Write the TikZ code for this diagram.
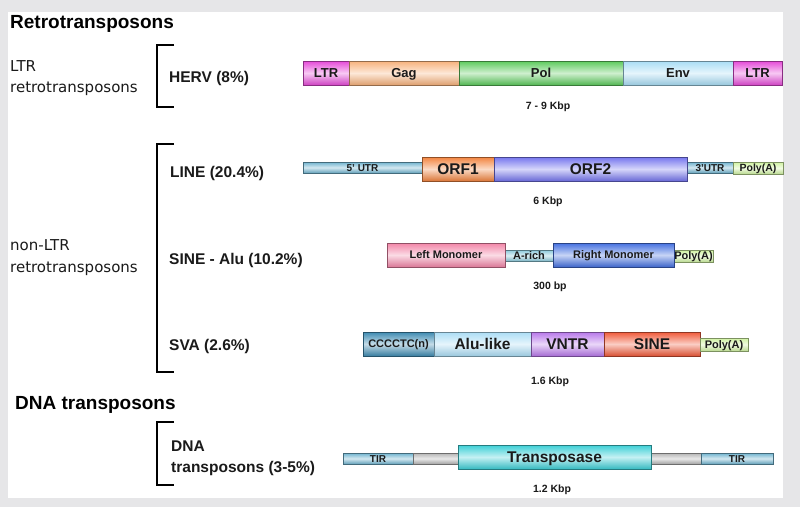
\documentclass[tikz,border=0pt]{standalone}
\usepackage{fontspec}
\setmainfont{Liberation Sans}
\newfontfamily\lucid{DejaVu Sans}
\definecolor{bgray}{HTML}{E6E6E8}
\definecolor{cLTR}{HTML}{E54BD8}
\definecolor{cGag}{HTML}{F7B27C}
\definecolor{cPol}{HTML}{5DCB5D}
\definecolor{cEnv}{HTML}{A9DDF5}
\definecolor{cUTR}{HTML}{6FB3CF}
\definecolor{cORFa}{HTML}{F2843F}
\definecolor{cORFb}{HTML}{7575EE}
\definecolor{cPA}{HTML}{CFF2A0}
\definecolor{cLM}{HTML}{F286A8}
\definecolor{cAR}{HTML}{8CCADB}
\definecolor{cRM}{HTML}{4470E0}
\definecolor{cCC}{HTML}{3E8BB2}
\definecolor{cAL}{HTML}{ABDDF5}
\definecolor{cVN}{HTML}{B878EA}
\definecolor{cSI}{HTML}{F05A3A}
\definecolor{cTP}{HTML}{3CCFD6}
\definecolor{cGR}{HTML}{B5B5B5}
\definecolor{txt}{HTML}{1A1A1A}
% name, x1, y1, x2, y2, colour, font size, text
\newcommand\gseg[8]{%
  \path[draw=#6!60!black, line width=0.7pt, top color=#6, bottom color=#6!90!black, middle color=#6!30]
    (#2,#3) rectangle (#4,#5);
  \node[font=\bfseries\fontsize{#7}{#7}\selectfont, text=txt, inner sep=0pt, anchor=base]
    (#1) at ({(#2+#4)/2},{(#3+#5)/2+0.358*#7}) {#8};}
\tikzset{
  head/.style={font=\bfseries\fontsize{19}{22}\selectfont, anchor=base west, inner sep=0pt, text=black},
  cat/.style={font=\lucid\fontsize{15}{18}\selectfont, anchor=base west, inner sep=0pt, text=txt},
  elem/.style={font=\bfseries\fontsize{15.5}{18}\selectfont, anchor=base west, inner sep=0pt, text=txt},
  sizelab/.style={font=\bfseries\fontsize{10.5}{12}\selectfont, inner sep=0pt, text=txt},
  brk/.style={line width=2.5pt, line cap=butt, line join=miter},
}
\begin{document}
\begin{tikzpicture}[x=1pt,y=-1pt]
\useasboundingbox (0,0) rectangle (800,507);
\fill[bgray] (0,0) rectangle (800,507);
\fill[white] (8,12) rectangle (783,498);

% headings
\node[head] (hRetro) at (10,28) {Retrotransposons};
\node[head] (hDNA) at (15,409) {DNA transposons};

% categories
\node[cat] (cLTRa) at (10,71) {LTR};
\node[cat] (cLTRb) at (10,92) {retrotransposons};
\node[cat] (cNLa) at (10,250) {non-LTR};
\node[cat] (cNLb) at (10,272) {retrotransposons};

% brackets
\draw[brk] (174,45) -- (157,45) -- (157,107) -- (174,107);
\draw[brk] (174,144) -- (157,144) -- (157,372) -- (174,372);
\draw[brk] (174,422) -- (157,422) -- (157,485) -- (174,485);

% elements
\node[elem] (eHERV) at (169,82) {HERV (8\%)};
\node[elem] (eLINE) at (170,177) {LINE (20.4\%)};
\node[elem] (eSINE) at (169,264) {SINE - Alu (10.2\%)};
\node[elem] (eSVA) at (169,350) {SVA (2.6\%)};
\node[elem] (eDNAa) at (171,451) {DNA};
\node[elem] (eDNAb) at (171,472) {transposons (3-5\%)};

% HERV
\gseg{hLTR1}{303}{61}{349}{85}{cLTR}{13}{LTR}
\gseg{hGag}{349}{61}{459}{85}{cGag}{13}{Gag}
\gseg{hPol}{459}{61}{623}{85}{cPol}{13}{Pol}
\gseg{hEnv}{623}{61}{733}{85}{cEnv}{13}{Env}
\gseg{hLTR2}{733}{61}{782}{85}{cLTR}{13}{LTR}
\node[sizelab] (sHERV) at (548,107) {7 - 9 Kbp};

% LINE
\gseg{lUTR5}{303}{162}{422}{173}{cUTR}{10}{5' UTR}
\gseg{lUTR3}{687}{162}{733}{173}{cUTR}{10}{3'UTR}
\gseg{lPA}{733}{162}{783}{174}{cPA}{10.5}{Poly(A)}
\gseg{lORF1}{422}{157}{494}{181}{cORFa}{15.5}{ORF1}
\gseg{lORF2}{494}{157}{687}{181}{cORFb}{15.5}{ORF2}
\node[sizelab] (sLINE) at (548,202) {6 Kbp};

% SINE
\gseg{sAR}{505}{250}{553}{261}{cAR}{11}{A-rich}
\gseg{sPA}{674}{250}{713}{262}{cPA}{11}{Poly(A)}
\gseg{sLM}{387}{243}{505}{267}{cLM}{11}{Left Monomer}
\gseg{sRM}{553}{243}{674}{267}{cRM}{11}{Right Monomer}
\node[sizelab] (sSINE) at (550,287) {300 bp};

% SVA
\gseg{vCC}{363}{332}{434}{356}{cCC}{11}{CCCCTC(n)}
\gseg{vAL}{434}{332}{531}{356}{cAL}{15.5}{Alu-like}
\gseg{vVN}{531}{332}{604}{356}{cVN}{15.5}{VNTR}
\gseg{vSI}{604}{332}{700}{356}{cSI}{15.5}{SINE}
\gseg{vPA}{700}{338}{748}{351}{cPA}{11}{Poly(A)}
\node[sizelab] (sSVA) at (550,382) {1.6 Kbp};

% DNA transposon
\gseg{dTIR1}{343}{453}{413}{464}{cUTR}{10}{TIR}
\gseg{dG1}{413}{453}{458}{464}{cGR}{10}{}
\gseg{dG2}{651}{453}{701}{464}{cGR}{10}{}
\gseg{dTIR2}{701}{453}{773}{464}{cUTR}{10}{TIR}
\gseg{dTP}{458}{445}{651}{469}{cTP}{15.5}{Transposase}
\node[sizelab] (sDNA) at (552,490) {1.2 Kbp};
\end{tikzpicture}
\end{document}
